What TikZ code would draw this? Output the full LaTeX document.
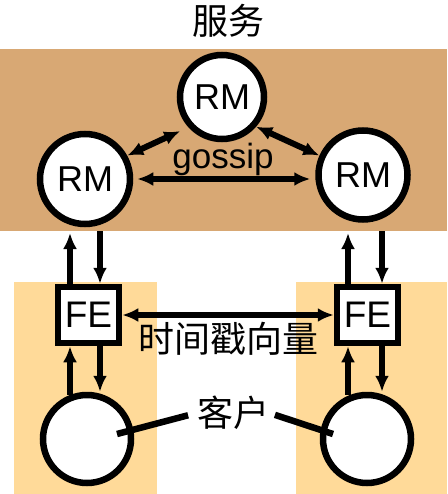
\documentclass[tikz,border=0pt]{standalone}
\usepackage{fontspec}
\setmainfont{Liberation Sans}
\newfontfamily\cjk{Noto Sans CJK SC}
\usetikzlibrary{arrows.meta}

\definecolor{svcbrown}{RGB}{216,168,116}
\definecolor{clientpeach}{RGB}{255,218,153}

\tikzset{
	rmnode/.style={circle,draw,line width=6.5pt,fill=white,inner sep=0pt,font=\fontsize{36}{36}\selectfont},
	fenode/.style={rectangle,draw,line width=6.5pt,fill=white,inner sep=0pt,minimum width=61pt,minimum height=56pt,font=\fontsize{37}{37}\selectfont},
	clnode/.style={circle,draw,line width=6.5pt,fill=white,inner sep=0pt,minimum size=88pt},
	cjklabel/.style={inner sep=0pt,font=\cjk\fontsize{36}{36}\selectfont},
	msgarrow/.style={line width=6pt,-{Latex[length=16pt,width=14pt]}},
	bothways/.style={line width=6pt,{Latex[length=16pt,width=14pt]}-{Latex[length=16pt,width=14pt]}},
	pointer/.style={line width=6.5pt}
}

\begin{document}
\begin{tikzpicture}[x=1pt,y=1pt,yscale=-1,xscale=1]
	\useasboundingbox (0,0) rectangle (447,494);
	
	%Shape: Rectangle [service]
	\fill [svcbrown] (0,49) rectangle (447,231);
	\coordinate (svcb) at (0,231);
	%Shape: Rectangle [clients]
	\fill [clientpeach] (14,282) rectangle (157,494);
	\fill [clientpeach] (296,282) rectangle (447,494);
	
	%Shape: Circle [replica managers]
	\node [rmnode,minimum size=84pt] (trm) at (222,97) {RM};
	\node [rmnode,minimum size=90pt] (lrm) at (85,179) {RM};
	\node [rmnode,minimum size=89pt] (rrm) at (363,175) {RM};
	%Shape: Square [front ends]
	\node [fenode] (lfe) at (88.5,315) {FE};
	\node [fenode] (rfe) at (367.5,315) {FE};
	%Shape: Circle [clients]
	\node [clnode] (lcl) at (87,439) {};
	\node [clnode] (rcl) at (367,439) {};
	
	%Straight Lines [gossip]
	\draw [bothways,shorten >=9pt] (lrm.29) -- (trm.222);
	\draw [bothways] (trm.319) -- (rrm.156);
	\draw [bothways,shorten <=4pt,shorten >=5pt] (lrm.east) -- (lrm.east -| rrm.west);
	
	%Straight Lines [FE to RM]
	\coordinate (lfeup) at ([xshift=-18.5pt]lfe.north);
	\coordinate (lfedn) at ([xshift=11.5pt]lfe.north);
	\coordinate (rfeup) at ([xshift=-19.5pt]rfe.north);
	\coordinate (rfedn) at ([xshift=14.5pt]rfe.north);
	\draw [msgarrow,shorten >=2pt] (lfeup) -- (lfeup |- svcb);
	\draw [msgarrow] (lfedn |- svcb) -- (lfedn);
	\draw [msgarrow,shorten >=2pt] (rfeup) -- (rfeup |- svcb);
	\draw [msgarrow] (rfedn |- svcb) -- (rfedn);
	
	%Straight Lines [client to FE]
	\coordinate (lclup) at ([xshift=-18.5pt]lfe.south);
	\coordinate (lcldn) at ([xshift=11.5pt]lfe.south);
	\coordinate (rclup) at ([xshift=-19.5pt]rfe.south);
	\coordinate (rcldn) at ([xshift=14.5pt]rfe.south);
	\draw [msgarrow,shorten <=-3pt] (lclup |- lcl.north) -- (lclup);
	\draw [msgarrow] (lcldn) -- (lcldn |- lcl.north);
	\draw [msgarrow,shorten <=-3pt] (rclup |- rcl.north) -- (rclup);
	\draw [msgarrow] (rcldn) -- (rcldn |- rcl.north);
	
	%Straight Lines [FE to FE]
	\draw [bothways] (lfe) -- (rfe);
	
	% Text Node
	\node [cjklabel,anchor=base] (svc) at (228,35) {服务};
	% Text Node
	\node [anchor=base,inner sep=0pt,font=\fontsize{35}{35}\selectfont] (gsp) at (223,169) {gossip};
	% Text Node
	\node [cjklabel,anchor=base] (tsv) at (228,352.7) {时间戳向量};
	% Text Node
	\node [cjklabel,anchor=base] (kh) at (233,426.7) {客户};
	
	%Straight Lines [label pointers]
	\coordinate (lclin) at (117,434);
	\coordinate (rclin) at (333,434);
	\draw [pointer,shorten <=9pt] (kh.west) -- (lclin);
	\draw [pointer,shorten <=6pt] (kh.east) -- (rclin);
	
\end{tikzpicture}
\end{document}
